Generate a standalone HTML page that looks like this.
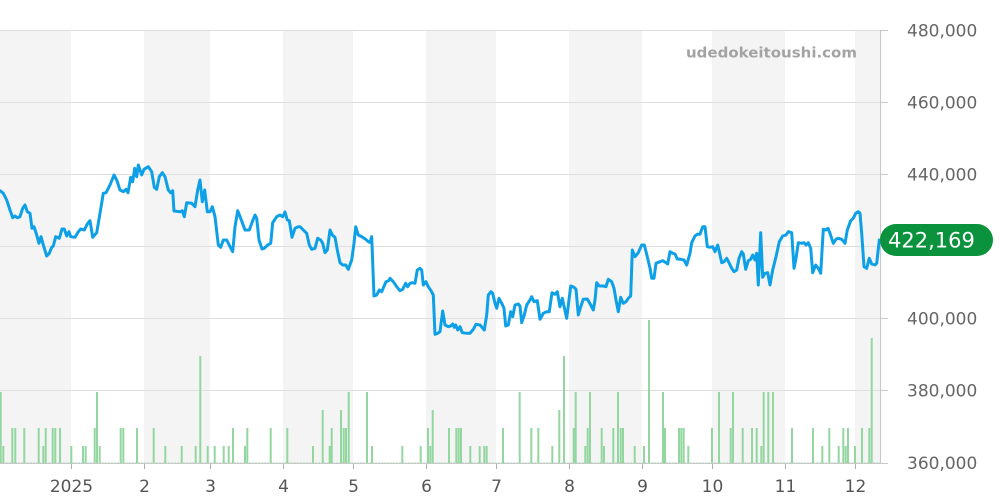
<!DOCTYPE html>
<html><head><meta charset="utf-8"><style>
html,body{margin:0;padding:0;background:#fff;}
svg{display:block;font-family:"DejaVu Sans","Liberation Sans",sans-serif;}
</style></head><body>
<svg width="1000" height="500" viewBox="0 0 1000 500" xmlns="http://www.w3.org/2000/svg">
<rect x="0" y="0" width="1000" height="500" fill="#fff"/>
<!-- shaded month bands -->
<g fill="#f4f4f4">
<rect x="0" y="30" width="71" height="434"/>
<rect x="144" y="30" width="66" height="434"/>
<rect x="283" y="30" width="70" height="434"/>
<rect x="426" y="30" width="70" height="434"/>
<rect x="569" y="30" width="73" height="434"/>
<rect x="712" y="30" width="73" height="434"/>
<rect x="855" y="30" width="25" height="434"/>
</g>
<!-- gridlines -->
<g stroke="#dedede" stroke-width="1">
<line x1="0" y1="30.5" x2="880" y2="30.5"/>
<line x1="0" y1="102.5" x2="880" y2="102.5"/>
<line x1="0" y1="174.5" x2="880" y2="174.5"/>
<line x1="0" y1="246.5" x2="880" y2="246.5"/>
<line x1="0" y1="318.5" x2="880" y2="318.5"/>
<line x1="0" y1="390.5" x2="880" y2="390.5"/>
</g>
<!-- right axis -->
<g stroke="#c8c8c8" stroke-width="1">
<line x1="880.5" y1="30" x2="880.5" y2="464"/>
<line x1="880" y1="30.5" x2="888" y2="30.5"/>
<line x1="880" y1="102.5" x2="888" y2="102.5"/>
<line x1="880" y1="174.5" x2="888" y2="174.5"/>
<line x1="880" y1="246.5" x2="888" y2="246.5"/>
<line x1="880" y1="318.5" x2="888" y2="318.5"/>
<line x1="880" y1="390.5" x2="888" y2="390.5"/>
<line x1="880" y1="463.5" x2="888" y2="463.5"/>
</g>
<!-- volume bars -->
<line x1="0" y1="463" x2="880" y2="463" stroke="#b4e2bc" stroke-width="1.2" stroke-dasharray="2 1"/>
<path stroke="#93d6a0" stroke-width="2" fill="none" d="
M0.7 463V392 M3.3 463V446 M12.3 463V428 M15.3 463V428 M24.3 463V428 M38.7 463V428 M43.3 463V446 M45.7 463V428 M52.7 463V428 M55.3 463V428 M60 463V428 M71.3 463V446 M83 463V446 M85.7 463V446 M94.7 463V428 M97 463V392 M99.7 463V446 M120.7 463V428 M123.3 463V428 M137 463V428 M153.7 463V428 M165.3 463V446 M181.7 463V446 M195.7 463V446 M200.3 463V356 M207.7 463V446 M214.7 463V446 M223.7 463V446 M228.7 463V446 M233 463V428 M245 463V446 M247.3 463V428 M270.7 463V428 M287.3 463V428
M313 463V446 M322.7 463V410 M329.7 463V446 M331.7 463V428 M341 463V410 M343.7 463V428 M346 463V428 M348.7 463V392 M367 463V392 M372 463V446 M402.3 463V446 M420.7 463V446 M428 463V428 M430.3 463V446 M432.7 463V410 M449 463V428 M456.3 463V428 M458.7 463V428 M461 463V428 M470.3 463V446 M479.7 463V446 M484.3 463V446 M486.7 463V446 M503 463V428 M519.7 463V392 M531.3 463V428 M538.3 463V428 M552.3 463V446 M559.3 463V410 M564 463V356 M573.7 463V428 M575.7 463V392 M585.3 463V446 M587.7 463V428 M590 463V392
M601.7 463V428 M604 463V446 M613.3 463V428 M618 463V392 M620.7 463V428 M623 463V428 M634.7 463V446 M644 463V446 M649 463V320 M663 463V392 M665 463V428 M679 463V428 M681.3 463V428 M683.7 463V428 M688.3 463V446 M712 463V428 M719 463V392 M730.7 463V428 M733 463V392 M742.7 463V428 M752 463V428 M756.7 463V428 M761.3 463V446 M763.7 463V392 M768.3 463V392 M773 463V392 M792 463V428 M813 463V428 M822.3 463V446 M829.3 463V428 M838.7 463V446 M843.3 463V428 M845.7 463V446 M848 463V428 M855 463V446 M862 463V428 M869.3 463V428 M871.7 463V338"/>
<!-- bottom axis -->
<line x1="0" y1="463.5" x2="888" y2="463.5" stroke="#c8c8c8" stroke-width="1"/>
<g stroke="#b0b0b0" stroke-width="1">
<line x1="71.5" y1="464" x2="71.5" y2="469"/>
<line x1="144.5" y1="464" x2="144.5" y2="469"/>
<line x1="210.5" y1="464" x2="210.5" y2="469"/>
<line x1="283.5" y1="464" x2="283.5" y2="469"/>
<line x1="353.5" y1="464" x2="353.5" y2="469"/>
<line x1="426.5" y1="464" x2="426.5" y2="469"/>
<line x1="496.5" y1="464" x2="496.5" y2="469"/>
<line x1="569.5" y1="464" x2="569.5" y2="469"/>
<line x1="642.5" y1="464" x2="642.5" y2="469"/>
<line x1="712.5" y1="464" x2="712.5" y2="469"/>
<line x1="785.5" y1="464" x2="785.5" y2="469"/>
<line x1="855.5" y1="464" x2="855.5" y2="469"/>
</g>
<g fill="#555" font-size="17" text-anchor="middle">
<text x="71.5" y="492">2025</text>
<text x="144.5" y="492">2</text>
<text x="210.5" y="492">3</text>
<text x="283.5" y="492">4</text>
<text x="353.5" y="492">5</text>
<text x="426.5" y="492">6</text>
<text x="496.5" y="492">7</text>
<text x="569.5" y="492">8</text>
<text x="642.5" y="492">9</text>
<text x="712.5" y="492">10</text>
<text x="785.5" y="492">11</text>
<text x="855.5" y="492">12</text>
</g>
<g fill="#666" font-size="17">
<text x="907" y="36.5">480,000</text>
<text x="907" y="108.5">460,000</text>
<text x="907" y="180.5">440,000</text>
<text x="907" y="324.5">400,000</text>
<text x="907" y="396.5">380,000</text>
<text x="907" y="469">360,000</text>
</g>
<!-- watermark -->
<text x="686" y="57.5" font-size="14.5" font-weight="bold" fill="#a3a3a3" textLength="171" lengthAdjust="spacingAndGlyphs">udedokeitoushi.com</text>
<!-- price line -->
<polyline fill="none" stroke="#0ea0e6" stroke-width="3" stroke-linejoin="round" stroke-linecap="round" points="
0,190.7 3.3,193.3 6.7,200 10,210 12.7,217.7 15,216 17.3,217.7 20,216.7 22.7,208.3 25,205 27.3,211.7 30,213.3 32,228.3 34,226.7 36.7,235 39,243.3 41,236.7 43.3,245 46.7,256 49.3,253.3 51.7,247.3 53.3,246 55.7,236.7 59.3,238.3 62,229 64.3,229 66.7,236 69,231.7 70.7,236.7 75,237.3 78.3,231.7 80.7,229 84.3,230 87.3,224 90,220.7 92.7,237.3 96.7,232.7 100,213.3 103.3,193.3 106,192.7 110,185 114,175 116.7,180 120,190 123.3,191.7 126,189.3 128,192.7 130.7,177.3 132.7,181.7 134.7,168.3 136.7,176.7 138.3,165 140,170 141.7,175 144,169.3 148.3,166.7 151.7,171.7 154.3,187.3 156.7,189.3 159.3,176.7 162.3,172.7 165,176.7 168.3,190 170.7,192.7 172.7,190.7 174,211 180,211.7 182.3,210.7 184.3,216.7 186.7,202.7 191.7,203.3 195,206.7 197.7,190 200,180 202.3,201.7 204.7,190 207.3,211.7 210,211.7 212.3,206.7 215,216.7 218.3,245 220.7,247.3 223.3,240 226.7,240 230,246.7 232.7,251.7 235,226.7 237.7,210.7 240.7,218.3 245,230 249.3,230 252.3,221.7 255,215 256.7,218.3 259,240 262,249 264.3,248.3 267.7,245 270.7,243.3 272.7,222.7 276.7,216.7 280,215 282.7,216.7 285,212 287.3,220 289.3,220.7 292,237.3 295,228.3 298.3,226.7
300,226.7 303.3,230 306.7,233.3 309.3,245 311.7,249.3 315,248.3 317.7,238.3 320.7,240 322.7,243.3 325,252.7 327.3,250 330,230 332.3,235 335,237.3 337.3,250 340,262.7 342.7,265 345.7,265 348.3,269.3 351.7,260 354,243.3 355.7,226.7 358.3,235 361.7,236.7 365.7,239.3 368.3,241.7 370,242.3 371.7,236.7 374,296 376.7,295 379.3,290 381.7,291.7 386,281.7 388.3,281 390,278.3 393.3,281.7 396.7,286.7 400,290.7 402.7,289.3 405.7,283.3 407.7,286.7 410,283.3 412.3,282.7 415,283.3 417.3,270 420,268.3 421.7,270 423.3,285 426,281.7 428.3,286.7 431,290.7 433.3,295 435,334.3 437.7,333.3 440,331.7 442.7,311 445,325 448.3,326.7 450.7,326 452.7,324 454.3,327.3 455.7,325 457.7,330 460,326.7 462.3,332.7 466.7,333.3 470,333.3 473.3,329.3 476,324.3 480,325 484.3,330 486.7,315 488.3,295 491,291.7 492.7,293.3 495,303.3 496.7,308.3 499,298.3 501.7,303.3 504,308.3 505.7,326 508.3,325 510.7,311.7 512.7,316.7 515,305 518.3,304 520,306 521.7,322.7 524,316 526.7,305 530,300 531.7,296.7 534,301.7 537.3,300.7 540,319.3 543.3,313.3 546.7,311.7 549.3,311.7 552,292.7 555,294.3 557.3,291.7 560,306.7 562.3,298.3 565,310.7 566.7,318.3 570.7,286 574,287.3 576,289.3 578.3,315 580.7,306.7 583.3,299.3 587.3,299 590.7,305 593.3,310 595,300 596.7,282.7 599.3,286 603.3,286 606,286.7 608.3,279.3 611.7,281.7 614,288.3 616,300 618.3,311.7 620.7,297.3 623.3,303.3 626,301.7 628.3,298.3 630.7,296 632.3,250 635,256.7 638.3,252.7 641.7,245 644.3,245 647.3,256.7 650,268.3 651.7,278.3 654,278.3 656,263.3 660,261.7 662.7,260.7 666,262.7 667.7,264 670,251.7 672.7,253.3 675,254 677.3,259 680.7,259.3 684,260 686.7,265 690,253.3 691.7,242.7 695,236 697.3,234.3 700,234.3 702.7,226.7 705,226.7 707.3,246.7 710,247.3 712.7,246.7 715,251.7 717.7,245 719.3,251.7 721.7,262.7 724,261.7 726.7,258.3 729.3,263.3 731.7,268.3 734,271.7 736.7,270 739,258.3 741.7,251.7 743.3,254 745.7,269.3 748.3,260.7 750.7,259.3 752.7,255 755,260 756.7,253.3 758.3,285 760.7,232.7 762.7,277.3 765,273.3 767.7,272.7 770,285 772.7,270 776,256.7 779.3,241.7 782.7,236 786,235 788.3,231.7 791.7,232.7 794,268.3 796,258.3 798.3,242.7 801.7,243.3 804,242.7 806,245 808.3,242.7 810.7,248.3 812.7,272.7 815.7,265 818.3,268.3 820.7,273.3 823.3,229.3 826,230 828,228.3 830,233.3 833.3,243.3 836,239.3 838.3,238.3 841.7,239.3 845,243.3 847.3,230 850.7,220.7 853.3,218.3 855.7,213.3 858.3,211.7 860,213.3 861.7,233.3 864,266.7 866.7,268.3 869.3,258.3 871.7,264 875,265 876.7,263.3 879.3,240"/>
<!-- last price badge -->
<rect x="880" y="224" width="113" height="32" rx="16" ry="16" fill="#0a923c"/>
<text x="888" y="247.5" font-size="21" fill="#fff">422,169</text>
</svg>
</body></html>
